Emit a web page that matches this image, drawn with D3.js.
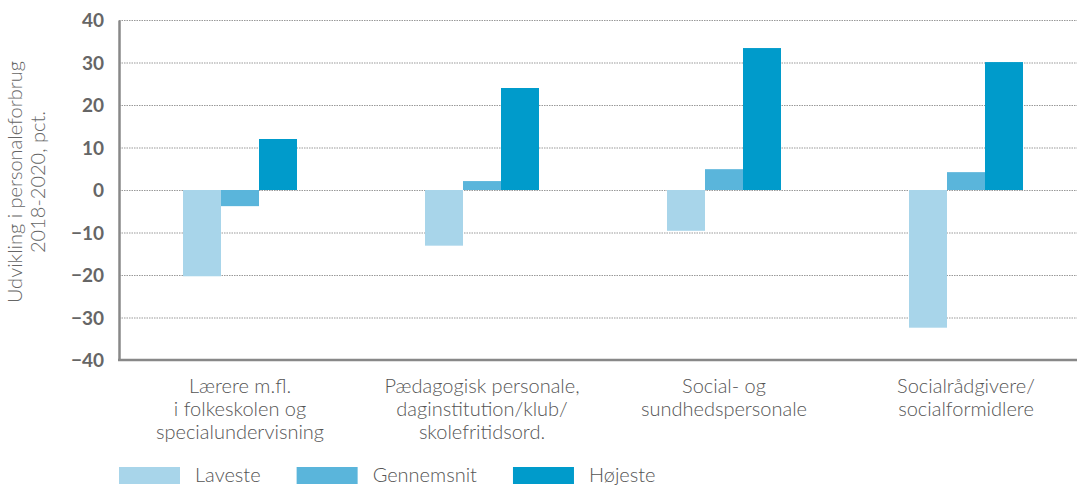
<!DOCTYPE html>
<html>
<head>
<meta charset="utf-8">
<style>
  body { margin: 0; background: #fff; }
  .tick text { font-family: Lato, "Open Sans", sans-serif; font-weight: bold; fill: #666; font-size: 19px; }
  .cat { font-family: Lato, sans-serif; font-weight: 300; fill: #555; font-size: 20px; }
  .ytitle { font-family: Lato, sans-serif; font-weight: 300; fill: #666; font-size: 20px; }
  .legend text { font-family: Lato, sans-serif; font-weight: 300; fill: #555; font-size: 20px; }
</style>
</head>
<body>
<svg id="chart" width="1077" height="485"></svg>
<script src="https://cdn.jsdelivr.net/npm/d3@7"></script>
<script>
// data
var categories = [
  ['Lærere m.fl.', 'i folkeskolen og', 'specialundervisning'],
  ['Pædagogisk personale,', 'daginstitution/klub/', 'skolefritidsord.'],
  ['Social- og', 'sundhedspersonale'],
  ['Socialrådgivere/', 'socialformidlere']
];
var series = ['Laveste', 'Gennemsnit', 'Højeste'];
var laveste = [-20.3, -13.1, -9.6, -32.4];
var gennemsnit = [-3.8, 2.1, 4.9, 4.2];
var hojeste = [12.0, 24.0, 33.4, 30.1];
var yTicks = [-40, -30, -20, -10, 0, 10, 20, 30, 40];
var colors = ['#a8d5ea', '#5ab5db', '#009bcb'];

var values = [laveste, gennemsnit, hojeste];
var svg = d3.select('#chart');

var m = { left: 119, right: 1087, top: 20, bottom: 360 };

var x0 = d3.scaleBand()
  .domain(d3.range(categories.length))
  .range([m.left, m.right])
  .paddingInner(0.529)
  .paddingOuter(0.2645);

var x1 = d3.scaleBand()
  .domain(series)
  .range([0, x0.bandwidth()]);

var y = d3.scaleLinear()
  .domain([-40, 40])
  .range([m.bottom, m.top]);

var color = d3.scaleOrdinal().domain(series).range(colors);

// dotted grid lines
svg.append('g')
  .selectAll('line')
  .data(yTicks)
  .enter()
  .append('line')
  .attr('x1', m.left)
  .attr('x2', 1077)
  .attr('y1', d => y(d) + 0.5)
  .attr('y2', d => y(d) + 0.5)
  .attr('stroke', '#999')
  .attr('stroke-width', 1.2)
  .attr('stroke-dasharray', '1.5,1');

// bars
var group = svg.append('g')
  .selectAll('g')
  .data(categories)
  .enter()
  .append('g')
  .attr('transform', (d, i) => 'translate(' + x0(i) + ',0)');

group.selectAll('rect')
  .data((d, i) => series.map((s, j) => ({ s: s, v: values[j][i] })))
  .enter()
  .append('rect')
  .attr('x', d => x1(d.s))
  .attr('width', x1.bandwidth())
  .attr('y', d => y(Math.max(0, d.v)))
  .attr('height', d => Math.abs(y(d.v) - y(0)))
  .attr('fill', d => color(d.s));

// y axis
var yAxis = svg.append('g')
  .attr('transform', 'translate(' + m.left + ',0)')
  .call(d3.axisLeft(y).tickValues(yTicks).tickSize(0).tickPadding(15));
yAxis.select('.domain').attr('stroke', '#888').attr('stroke-width', 2.5);
yAxis.selectAll('.tick text').attr('dy', '0.35em');

// bottom axis line
svg.append('line')
  .attr('x1', m.left - 1)
  .attr('x2', 1077)
  .attr('y1', m.bottom)
  .attr('y2', m.bottom)
  .attr('stroke', '#888')
  .attr('stroke-width', 2.5);

// category labels
svg.append('g')
  .selectAll('text')
  .data(categories)
  .enter()
  .append('text')
  .attr('class', 'cat')
  .attr('text-anchor', 'middle')
  .attr('x', (d, i) => x0(i) + x0.bandwidth() / 2)
  .attr('y', 393)
  .selectAll('tspan')
  .data(d => d)
  .enter()
  .append('tspan')
  .attr('x', function() { return d3.select(this.parentNode).attr('x'); })
  .attr('dy', (d, i) => i === 0 ? 0 : 23)
  .text(d => d);

// y title
svg.append('text')
  .attr('class', 'ytitle')
  .attr('text-anchor', 'middle')
  .attr('transform', 'translate(22,182) rotate(-90)')
  .selectAll('tspan')
  .data(['Udvikling i personaleforbrug', '2018-2020, pct.'])
  .enter()
  .append('tspan')
  .attr('x', 0)
  .attr('dy', (d, i) => i === 0 ? 0 : 23)
  .text(d => d);

// legend
var legend = svg.append('g').attr('class', 'legend');
var lx = 119;
series.forEach(function(s) {
  legend.append('rect')
    .attr('x', lx)
    .attr('y', 467)
    .attr('width', 61)
    .attr('height', 17)
    .attr('fill', color(s));
  var t = legend.append('text')
    .attr('x', lx + 76)
    .attr('y', 482)
    .text(s);
  lx = lx + 76 + t.node().getComputedTextLength() + 36;
});
</script>
</body>
</html>
